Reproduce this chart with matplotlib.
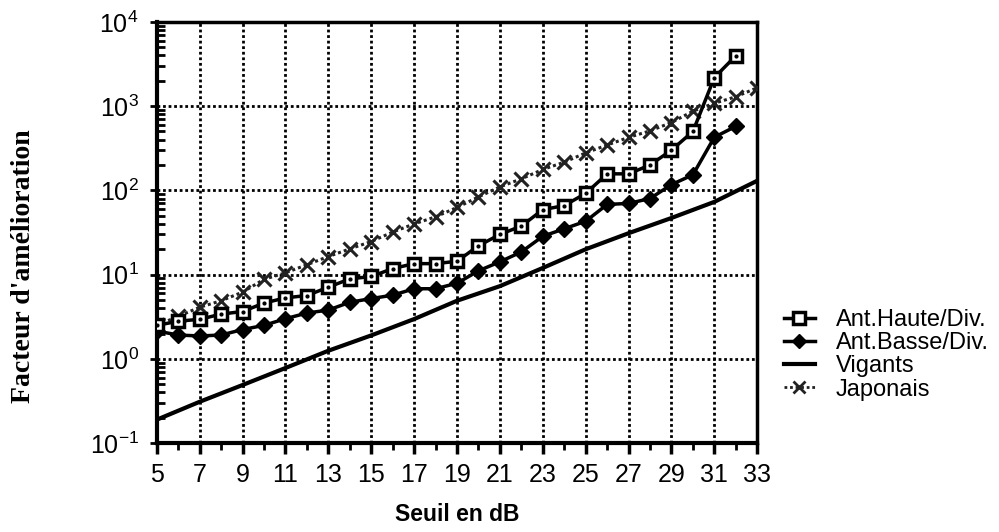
import matplotlib
matplotlib.use("Agg")
import matplotlib.pyplot as plt
from matplotlib.lines import Line2D
from matplotlib.ticker import FixedLocator, LogLocator, NullFormatter

plt.rcParams["font.family"] = ["Liberation Sans", "DejaVu Sans"]
plt.rcParams["mathtext.default"] = "regular"

# valeurs
seuil = list(range(5, 33))
haute = [2.5, 2.8, 2.95, 3.4, 3.65, 4.6, 5.3, 5.65, 7.1, 8.9, 9.5, 11.8, 13.5, 13.5,
         14.4, 22, 30, 37.7, 59, 66, 92, 157, 157, 200, 300, 500, 2180, 3950]
basse = [2.14, 1.92, 1.87, 1.92, 2.23, 2.5, 3.0, 3.5, 3.8, 4.7, 5.2, 5.7, 6.8, 6.8,
         7.9, 11.1, 14.2, 18.6, 28.5, 35, 43, 68, 70, 80, 117, 153, 427, 575]
seuil_jap = list(range(5, 34))
japonais = [2.5, 3.2, 4.1, 4.9, 6.2, 8.8, 10.5, 13.1, 16.4, 20.2, 24.7, 32, 40, 48.5,
            62.7, 83.6, 110, 137, 177, 216, 278, 345, 425, 508, 638, 870, 1080, 1290, 1650]
seuil_vig = list(range(5, 34, 2))
vigants = [0.19, 0.31, 0.49, 0.78, 1.25, 1.9, 2.97, 4.9, 7.3, 12, 20, 31, 47, 73, 130]

labels = ["Ant.Haute/Div.", "Ant.Basse/Div.", "Vigants", "Japonais"]
x_ticks = list(range(5, 34, 2))

fig = plt.figure(figsize=(9.99, 5.32), dpi=100)
ax = fig.add_axes([0.157, 0.167, 0.601, 0.792])
ax.set_yscale("log")
ax.set_xlim(5, 33)
ax.set_ylim(0.1, 1e4)

ax.plot(seuil_vig, vigants, color="black", linewidth=3, zorder=3)
ax.plot(seuil_jap, japonais, color="#222222", linestyle=(0, (1, 1)), linewidth=2.2,
        marker="x", markersize=10, markeredgewidth=2.2, zorder=4)
ax.plot(seuil, basse, color="black", linewidth=2.5, marker="D", markersize=8, zorder=5)
ax.plot(seuil, haute, color="black", linewidth=2.5, marker="s", markersize=9,
        markerfacecolor="white", markeredgewidth=2.5, zorder=6)
ax.plot(seuil, haute, linestyle="none", marker=".", markersize=4, color="black", zorder=7)

ax.xaxis.set_major_locator(FixedLocator(x_ticks))
ax.xaxis.set_minor_locator(FixedLocator(list(range(6, 33, 2))))
ax.set_xticklabels([str(v) for v in x_ticks], fontsize=18)
ax.yaxis.set_major_locator(LogLocator(base=10, numticks=10))
ax.yaxis.set_minor_locator(LogLocator(base=10, subs=range(2, 10), numticks=20))
ax.yaxis.set_minor_formatter(NullFormatter())
ax.set_yticks([0.1, 1, 10, 100, 1000, 10000])
ax.set_yticklabels(["$10^{-1}$", "$10^{0}$", "$10^{1}$", "$10^{2}$", "$10^{3}$", "$10^{4}$"],
                   fontsize=18)

ax.tick_params(axis="x", which="major", direction="out", length=8, width=2.5, pad=6)
ax.tick_params(axis="x", which="minor", direction="out", length=5, width=2)
ax.tick_params(axis="y", which="major", direction="out", length=5, width=2, pad=8)
ax.tick_params(axis="y", which="minor", direction="in", length=6, width=2)

ax.grid(which="major", color="black", linestyle=(0, (1, 1)), linewidth=2)
for side in ["left", "bottom"]:
    ax.spines[side].set_linewidth(3)
for side in ["top", "right"]:
    ax.spines[side].set_linewidth(2.5)

ax.set_xlabel("Seuil en dB", fontsize=16.5, fontweight="bold", labelpad=12)
fig.text(0.024, 0.5, "Facteur d'amélioration", rotation=90, va="center", ha="center",
         fontsize=20, fontweight="bold", family="Liberation Serif")

handles = [
    Line2D([], [], color="black", linewidth=2.5, marker="s", markersize=8,
           markerfacecolor="white", markeredgewidth=2.5),
    Line2D([], [], color="black", linewidth=2.5, marker="D", markersize=7),
    Line2D([], [], color="black", linewidth=3),
    Line2D([], [], color="#222222", linestyle=(0, (1, 1)), linewidth=2, marker="x",
           markersize=8, markeredgewidth=2),
]
fig.legend(handles, labels, loc="center left", bbox_to_anchor=(0.773, 0.333),
           frameon=False, fontsize=17, handlelength=1.3, handletextpad=0.9,
           labelspacing=0.05, borderpad=0)

fig.savefig("out.png", dpi=100)
